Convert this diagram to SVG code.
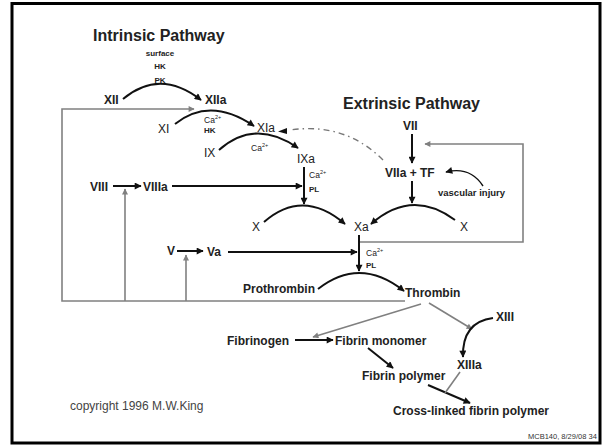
<svg xmlns="http://www.w3.org/2000/svg" width="602" height="445" viewBox="0 0 602 445">
<style>
text{font-family:"Liberation Sans",Arial,sans-serif;fill:#222}
.t{font-size:16px;font-weight:bold}
.n{font-size:12px;font-weight:bold}
.r{font-size:12px}
.s{font-size:8px;font-weight:bold}
.ca{font-size:8.5px}
.sup{font-size:5.5px}
.blk{fill:none;stroke:#111;stroke-width:2}
.gry{fill:none;stroke:#808080;stroke-width:1.6}
</style>
<defs>
<marker id="ah" viewBox="0 0 10 10" refX="9" refY="5" markerWidth="9" markerHeight="7" markerUnits="userSpaceOnUse" orient="auto"><path d="M0,0 L10,5 L0,10 z" fill="#111"/></marker>
<marker id="ag" viewBox="0 0 10 10" refX="9" refY="5" markerWidth="9" markerHeight="6" markerUnits="userSpaceOnUse" orient="auto"><path d="M0,0 L10,5 L0,10 z" fill="#808080"/></marker>
</defs>
<rect x="12" y="3.5" width="588" height="439.5" fill="#fff" stroke="#000" stroke-width="3"/>

<g id="connectors">
<!-- gray feedback loop -->
<path class="gry" d="M405,301 H62 V109 H194" marker-end="url(#ag)"/>
<path class="gry" d="M125,301 V189" marker-end="url(#ag)"/>
<path class="gry" d="M186,301 V255" marker-end="url(#ag)"/>
<path class="gry" d="M360,242 H523 V144 H425" marker-end="url(#ag)"/>
<!-- intrinsic -->
<path class="blk" d="M123,99 Q160,68 201,100" marker-end="url(#ah)"/>
<path class="blk" d="M175,124 Q210,96 254,126" marker-end="url(#ah)"/>
<path class="blk" d="M219,150 Q255,118 298,148" marker-end="url(#ah)"/>
<path class="blk" d="M304,167 V204" marker-end="url(#ah)"/>
<path class="blk" d="M113,186 H141" marker-end="url(#ah)"/>
<path class="blk" d="M172,186 H302" marker-end="url(#ah)"/>
<path class="blk" d="M264,222 Q303,188 345,224" marker-end="url(#ah)"/>
<!-- dashed XIa activation by VIIa -->
<path d="M383,160 Q345,122 290,130" fill="none" stroke="#777" stroke-width="1.4" stroke-dasharray="6,4,1.5,4"/>
<path d="M278,131.5 L287,128 L287,134 z" fill="#111"/>
<!-- extrinsic -->
<path class="blk" d="M412,134 V163" marker-end="url(#ah)"/>
<path class="blk" d="M412,181 V203" marker-end="url(#ah)"/>
<path class="blk" d="M455,220 Q412,188 371,224" marker-end="url(#ah)"/>
<path d="M483,186 Q470,166 446,172" fill="none" stroke="#111" stroke-width="1.4" marker-end="url(#ah)"/>
<!-- common -->
<path class="blk" d="M359,235 V271" marker-end="url(#ah)"/>
<path class="blk" d="M177,251 H203" marker-end="url(#ah)"/>
<path class="blk" d="M228,252 H357" marker-end="url(#ah)"/>
<path class="blk" d="M318,289 Q360,256 404,291" marker-end="url(#ah)"/>
<path class="gry" d="M421,304 L313,337" marker-end="url(#ag)"/>
<path class="gry" d="M429,303 L472,329" marker-end="url(#ag)"/>
<path class="blk" d="M493,318 Q462,322 463,357" marker-end="url(#ah)"/>
<path class="blk" d="M295,340 H333" marker-end="url(#ah)"/>
<path class="blk" d="M368,348 L393,368" marker-end="url(#ah)"/>
<path class="blk" d="M428,385 L470,403" marker-end="url(#ah)"/>
<path class="gry" d="M460,372 L445,393"/>
</g>

<g id="title-intrinsic"><text class="t" x="93" y="41">Intrinsic Pathway</text></g>
<g id="title-extrinsic"><text class="t" x="343" y="109">Extrinsic Pathway</text></g>
<g id="cofactors-XII">
<text class="s" x="160" y="56" text-anchor="middle">surface</text>
<text class="s" x="160" y="69" text-anchor="middle">HK</text>
<text class="s" x="160" y="83" text-anchor="middle">PK</text>
</g>
<g id="XII"><text class="n" x="104" y="104">XII</text></g>
<g id="XIIa"><text class="n" x="205" y="104">XIIa</text></g>
<g id="XI"><text class="r" x="158" y="133">XI</text></g>
<g id="cofactors-XI">
<text class="ca" x="204" y="123">Ca<tspan class="sup" dy="-4">2+</tspan></text>
<text class="s" x="204" y="133">HK</text>
</g>
<g id="XIa"><text class="r" x="257" y="132">XIa</text></g>
<g id="IX"><text class="r" x="204" y="157">IX</text></g>
<g id="cofactors-IX"><text class="ca" x="251" y="151">Ca<tspan class="sup" dy="-4">2+</tspan></text></g>
<g id="IXa"><text class="r" x="297" y="163">IXa</text></g>
<g id="cofactors-IXa">
<text class="ca" x="309" y="178">Ca<tspan class="sup" dy="-4">2+</tspan></text>
<text class="s" x="309" y="192">PL</text>
</g>
<g id="VIII"><text class="n" x="90" y="191">VIII</text></g>
<g id="VIIIa"><text class="n" x="143" y="191">VIIIa</text></g>
<g id="X-left"><text class="r" x="252" y="231">X</text></g>
<g id="Xa"><text class="r" x="354" y="231">Xa</text></g>
<g id="X-right"><text class="r" x="460" y="231">X</text></g>
<g id="VII"><text class="n" x="403" y="130">VII</text></g>
<g id="VIIa-TF"><text class="n" x="385" y="177">VIIa + TF</text></g>
<g id="vascular-injury"><text class="s" style="font-size:9.5px" x="438" y="196">vascular injury</text></g>
<g id="cofactors-Xa">
<text class="ca" x="366" y="256">Ca<tspan class="sup" dy="-4">2+</tspan></text>
<text class="s" x="366" y="268">PL</text>
</g>
<g id="V"><text class="n" x="167" y="255">V</text></g>
<g id="Va"><text class="n" x="207" y="256">Va</text></g>
<g id="Prothrombin"><text class="n" x="243" y="293">Prothrombin</text></g>
<g id="Thrombin"><text class="n" x="405" y="297">Thrombin</text></g>
<g id="XIII"><text class="n" x="496" y="321">XIII</text></g>
<g id="XIIIa"><text class="n" x="457" y="369">XIIIa</text></g>
<g id="Fibrinogen"><text class="n" x="227" y="345">Fibrinogen</text></g>
<g id="Fibrin-monomer"><text class="n" x="335" y="345">Fibrin monomer</text></g>
<g id="Fibrin-polymer"><text class="n" x="362" y="380">Fibrin polymer</text></g>
<g id="Cross-linked"><text class="n" x="393" y="415">Cross-linked fibrin polymer</text></g>
<g id="copyright"><text class="r" style="fill:#444" x="70" y="410">copyright 1996 M.W.King</text></g>
<g id="footer"><text style="font-size:7.5px;fill:#333" x="528" y="439">MCB140, 8/29/08 34</text></g>
</svg>
